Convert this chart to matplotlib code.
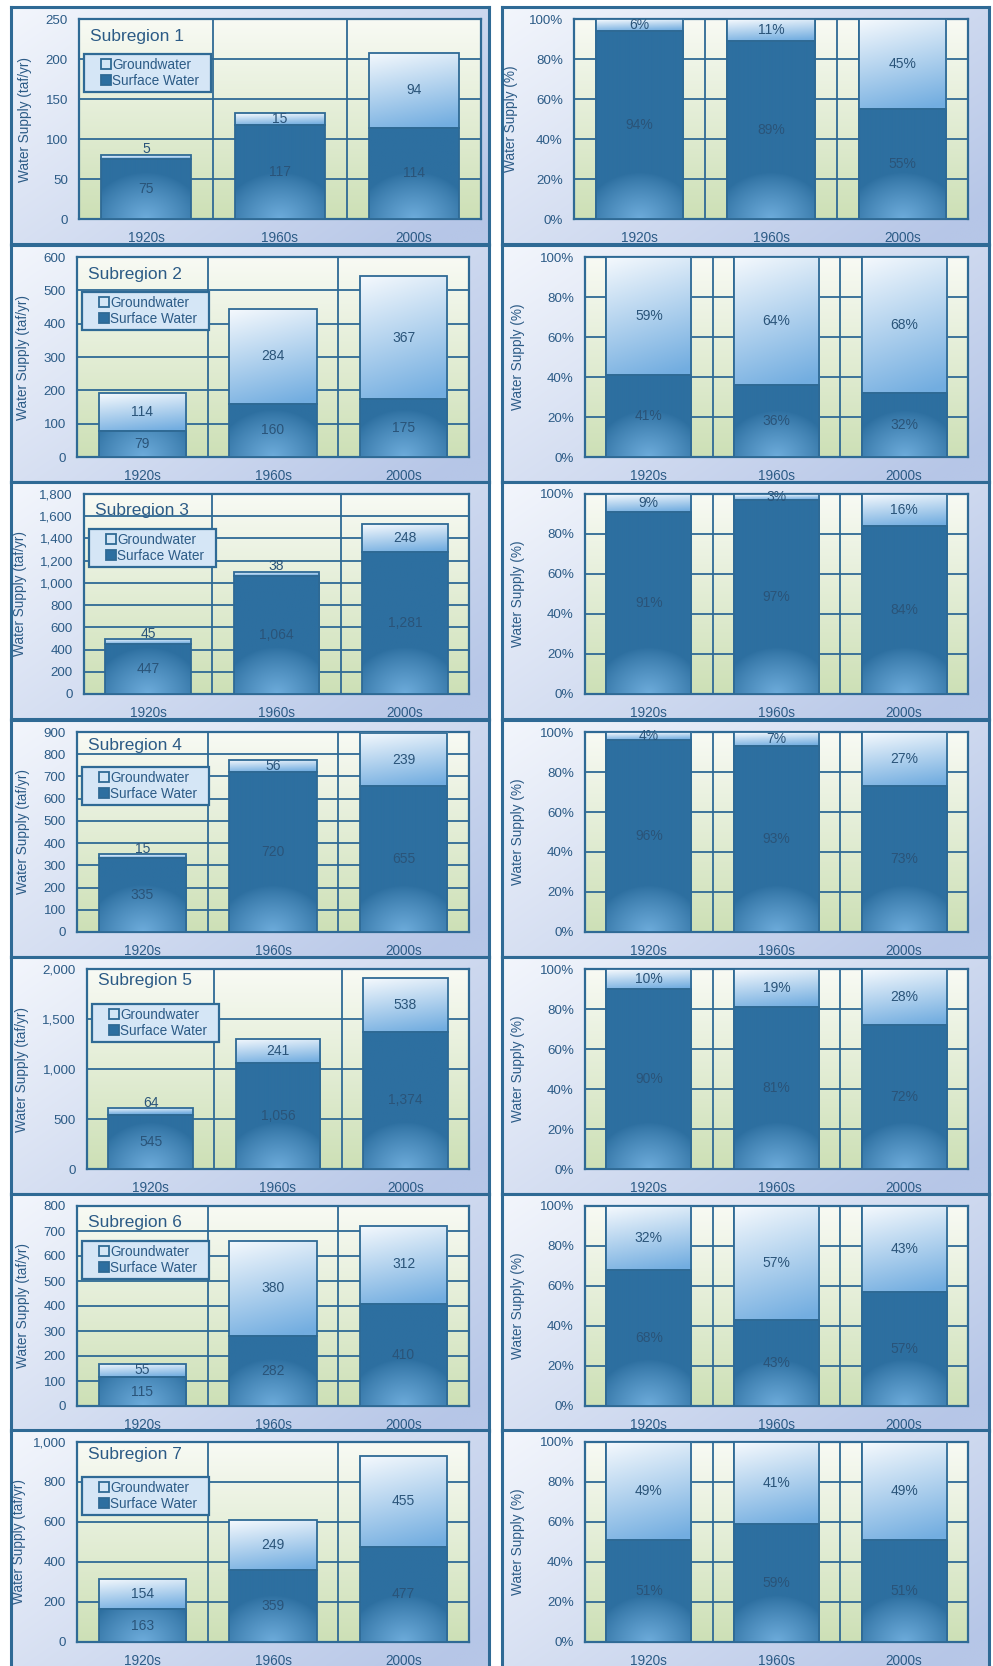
import numpy as np
import matplotlib
matplotlib.use("Agg")
import matplotlib.pyplot as plt
from matplotlib.colors import to_rgb
from matplotlib.lines import Line2D
from matplotlib.legend_handler import HandlerLine2D
from matplotlib.ticker import FuncFormatter

plt.rcParams['font.family'] = ['Liberation Sans', 'DejaVu Sans']

# ---- data (taf/yr and %) ----
decades = ['1920s', '1960s', '2000s']
subregions = ['Subregion 1', 'Subregion 2', 'Subregion 3', 'Subregion 4',
              'Subregion 5', 'Subregion 6', 'Subregion 7']
surface = [[75, 117, 114], [79, 160, 175], [447, 1064, 1281], [335, 720, 655],
           [545, 1056, 1374], [115, 282, 410], [163, 359, 477]]
ground = [[5, 15, 94], [114, 284, 367], [45, 38, 248], [15, 56, 239],
          [64, 241, 538], [55, 380, 312], [154, 249, 455]]
surface_pct = [[94, 89, 55], [41, 36, 32], [91, 97, 84], [96, 93, 73],
               [90, 81, 72], [68, 43, 57], [51, 59, 51]]
ground_pct = [[6, 11, 45], [59, 64, 68], [9, 3, 16], [4, 7, 27],
              [10, 19, 28], [32, 57, 43], [49, 41, 49]]
y_max = [250, 600, 1800, 900, 2000, 800, 1000]
y_step = [50, 100, 200, 100, 500, 100, 200]

# ---- layout (pixels) ----
W, H = 993, 1666
row_top = [7, 245, 482, 720, 957, 1194, 1430]
left_plot_x0 = [79, 77, 84, 77, 87, 77, 77]
left_plot_x1 = [481, 469, 469, 469, 469, 469, 469]
right_plot_x0 = [574, 585, 585, 585, 585, 585, 585]
right_plot_x1 = 968
left_ylab_x = [32, 30, 27, 30, 29, 30, 26]
right_ylab_x = [518, 525, 525, 525, 525, 525, 525]
title_dy = [18, 18, 16, 13, 11, 17, 12]
PLOT_H = 200
BAR_W = 2 / 3

EDGE = '#2f6a95'
TXT = '#2c5b86'
DARK_TXT = '#2a5479'
SURF = '#2d6fa0'
GLOW = '#78b6e5'
GW_TOP = '#f5f9fd'
GW_BOT = '#72ade0'
BG_TOP = '#f8faf4'
BG_BOT = '#cde0b6'
PANEL_A = '#f3f6fc'
PANEL_B = '#b6c6e7'


def blend(c1, c2, t):
    a = np.array(to_rgb(c1))
    b = np.array(to_rgb(c2))
    t = np.asarray(t)[..., None]
    return a * (1 - t) + b * t


def rect(x0, y0, x1, y1):
    return [x0 / W, 1 - y1 / H, (x1 - x0) / W, (y1 - y0) / H]


def panel_box(fig, x0, y0, x1, y1):
    bg = fig.add_axes(rect(x0, y0, x1, y1))
    gx = np.linspace(0, 1, 200)[None, :]
    gy = np.linspace(0, 1, 120)[:, None]
    t = np.clip(0.62 * gx + 0.45 * gy, 0, 1)
    bg.imshow(blend(PANEL_A, PANEL_B, t), extent=[0, 1, 0, 1], aspect='auto',
              origin='upper', interpolation='bilinear')
    bg.set_xlim(0, 1)
    bg.set_ylim(0, 1)
    bg.set_xticks([])
    bg.set_yticks([])
    for s in bg.spines.values():
        s.set_color(EDGE)
        s.set_linewidth(2.2)
    return bg


def surface_img(w_px, h_px):
    nx = max(int(w_px), 2)
    ny = max(int(round(h_px)), 2)
    xx = np.linspace(-1, 1, nx)[None, :]
    d = (ny - 1 - np.arange(ny))[:, None]
    r = np.sqrt((xx * 0.78) ** 2 + (d / 46.0) ** 2)
    g = 0.85 * np.clip(1 - r, 0, 1) ** 0.85
    return blend(SURF, GLOW, g)


def ground_img(w_px, h_px):
    nx = max(int(w_px), 2)
    ny = max(int(round(h_px)), 2)
    v = np.linspace(0, 1, ny)[:, None]
    hh = np.linspace(0, 1, nx)[None, :]
    t = np.clip(0.85 * v + 0.2 * hh, 0, 1)
    return blend(GW_TOP, GW_BOT, t)


def style_axes(ax):
    ax.imshow(blend(BG_TOP, BG_BOT, np.linspace(0, 1, 100)[:, None] * np.ones((1, 2))),
              extent=[0, 1, 0, 1], transform=ax.transAxes, aspect='auto',
              origin='upper', zorder=0.1, interpolation='bilinear')
    ax.set_axisbelow(True)
    ax.grid(True, which='major', axis='y', color=EDGE, lw=1.3)
    ax.grid(True, which='minor', axis='x', color=EDGE, lw=1.3)
    for s in ax.spines.values():
        s.set_color(EDGE)
        s.set_linewidth(1.6)
    ax.tick_params(axis='both', which='both', length=0, colors=TXT)
    ax.tick_params(axis='y', labelsize=9.6, pad=8)
    ax.tick_params(axis='x', labelsize=9.8, pad=8.5)


def draw_stack(ax, bottoms, vals, ymax, bar_px, kind):
    xs = np.arange(len(decades))
    for x, b, v in zip(xs, bottoms, vals):
        h_px = v / ymax * PLOT_H
        img = surface_img(bar_px, h_px) if kind == 'surface' else ground_img(bar_px, h_px)
        ax.imshow(img, extent=[x - BAR_W / 2, x + BAR_W / 2, b, b + v], origin='upper',
                  aspect='auto', zorder=3, interpolation='bilinear')
    ax.bar(xs, vals, bottom=bottoms, width=BAR_W, facecolor='none',
           edgecolor=EDGE, lw=1.3, zorder=4)


fig = plt.figure(figsize=(W / 100, H / 100), dpi=100)
fig.patch.set_facecolor('white')

leg_handles = [
    Line2D([], [], marker='s', ls='none', markersize=6.5, markerfacecolor='#d3e6f6',
           markeredgecolor=EDGE, markeredgewidth=1.3, label='Groundwater'),
    Line2D([], [], marker='s', ls='none', markersize=6.5, markerfacecolor=SURF,
           markeredgecolor=EDGE, markeredgewidth=1.3, label='Surface Water'),
]

for i in range(len(subregions)):
    top = row_top[i]
    bottom = top + 237 if i < len(subregions) - 1 else H + 3
    p_top, p_bot = top + 12, top + 12 + PLOT_H
    ymax = y_max[i]
    xs = np.arange(len(decades))

    # ---------- left: absolute values ----------
    panel_box(fig, 11, top, 489, bottom)
    x0, x1 = left_plot_x0[i], left_plot_x1[i]
    pw = x1 - x0
    ax = fig.add_axes(rect(x0, p_top, x1, p_bot))
    style_axes(ax)
    bar_px = BAR_W * pw / 3
    sw = surface[i]
    gw = ground[i]
    draw_stack(ax, [0, 0, 0], sw, ymax, bar_px, 'surface')
    draw_stack(ax, sw, gw, ymax, bar_px, 'ground')
    for x, s, g in zip(xs, sw, gw):
        ax.text(x, s / 2, f"{s:,}", ha='center', va='center', fontsize=10,
                color=DARK_TXT, zorder=6)
        if g / ymax * PLOT_H < 10:
            ax.annotate(f"{g:,}", (x, s + g), xytext=(0, 4), textcoords='offset points',
                        ha='center', va='center', fontsize=10, color=DARK_TXT, zorder=6)
        else:
            ax.text(x, s + g / 2, f"{g:,}", ha='center', va='center', fontsize=10,
                    color=DARK_TXT, zorder=6)
    ax.set_xlim(-0.5, 2.5)
    ax.set_ylim(0, ymax)
    ax.set_xticks(xs)
    ax.set_xticklabels(decades)
    ax.set_xticks([0.5, 1.5], minor=True)
    ax.set_yticks(np.arange(0, ymax + 1, y_step[i]))
    ax.yaxis.set_major_formatter(FuncFormatter(lambda v, _: f"{int(v):,}"))
    ax.set_ylabel('Water Supply (taf/yr)', fontsize=9.8, color=TXT)
    ax.yaxis.set_label_coords((left_ylab_x[i] - x0) / pw, 0.5)
    ax.text(11 / pw, 1 - title_dy[i] / PLOT_H, subregions[i], transform=ax.transAxes,
            fontsize=12.5, color=TXT, ha='left', va='center', zorder=6)
    leg = ax.legend(handles=leg_handles, loc='upper left', mode='expand',
                    bbox_to_anchor=(5 / pw, 1 - 71 / PLOT_H, 127 / pw, 36 / PLOT_H),
                    borderaxespad=0,
                    fontsize=9.8, frameon=True, fancybox=False, framealpha=1,
                    facecolor='#d5e6f6', edgecolor=EDGE, labelcolor=TXT,
                    handlelength=1.6, handletextpad=0.15, borderpad=0.3,
                    labelspacing=0.15,
                    handler_map={Line2D: HandlerLine2D(xpad=1.1)})
    leg.get_frame().set_linewidth(1.6)
    leg.set_zorder(7)

    # ---------- right: percentages ----------
    panel_box(fig, 502, top, 989, bottom)
    x0, x1 = right_plot_x0[i], right_plot_x1
    pw = x1 - x0
    ax2 = fig.add_axes(rect(x0, p_top, x1, p_bot))
    style_axes(ax2)
    bar_px = BAR_W * pw / 3
    sp = surface_pct[i]
    gp = ground_pct[i]
    draw_stack(ax2, [0, 0, 0], sp, 100, bar_px, 'surface')
    draw_stack(ax2, sp, gp, 100, bar_px, 'ground')
    for x, s, g in zip(xs, sp, gp):
        ax2.text(x, s / 2, f"{s}%", ha='center', va='center', fontsize=10,
                 color=DARK_TXT, zorder=6)
        ax2.text(x, s + g / 2, f"{g}%", ha='center', va='center', fontsize=10,
                 color=DARK_TXT, zorder=6)
    ax2.set_xlim(-0.5, 2.5)
    ax2.set_ylim(0, 100)
    ax2.set_xticks(xs)
    ax2.set_xticklabels(decades)
    edges = sorted([c - BAR_W / 2 for c in xs] + [c + BAR_W / 2 for c in xs] + [0.5, 1.5])
    ax2.set_xticks(edges, minor=True)
    ax2.set_yticks(np.arange(0, 101, 20))
    ax2.yaxis.set_major_formatter(FuncFormatter(lambda v, _: f"{int(v)}%"))
    ax2.set_ylabel('Water Supply (%)', fontsize=9.8, color=TXT)
    ax2.yaxis.set_label_coords((right_ylab_x[i] - x0) / pw, 0.5)

fig.savefig('out.png', dpi=100, facecolor=fig.get_facecolor())
